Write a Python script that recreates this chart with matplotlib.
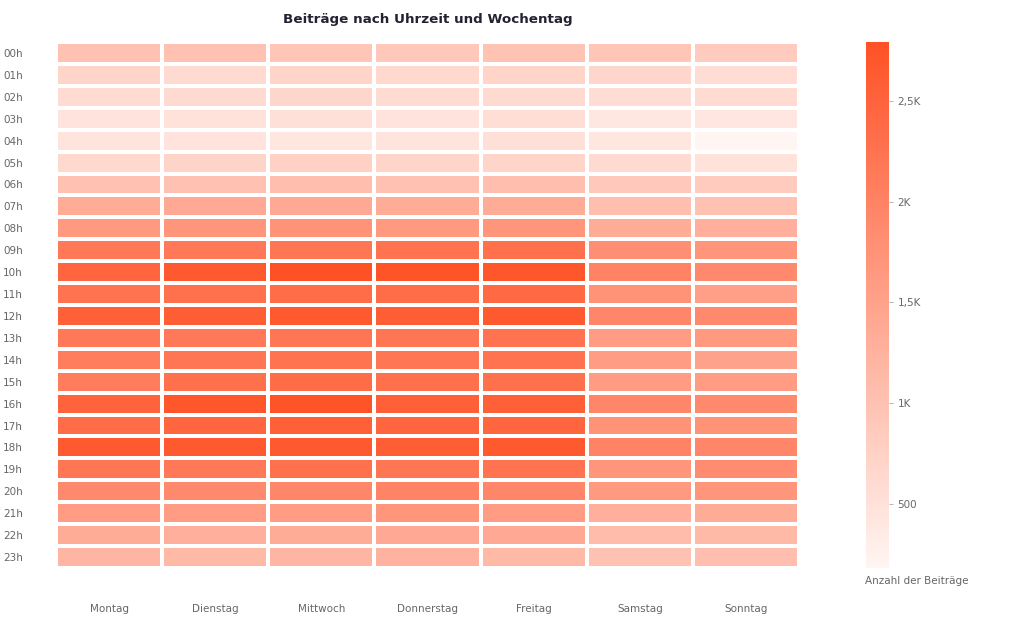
import numpy as np
import matplotlib
matplotlib.use("Agg")
import matplotlib.pyplot as plt
from matplotlib.colors import LinearSegmentedColormap

days = ["Montag", "Dienstag", "Mittwoch", "Donnerstag", "Freitag", "Samstag", "Sonntag"]
hours = [f"{h:02d}h" for h in range(24)]

# rows = hours 00..23, columns = Montag..Sonntag
counts = [
    [1000, 1000, 950, 900, 980, 950, 850],
    [700, 620, 700, 650, 700, 680, 580],
    [600, 620, 680, 600, 620, 580, 600],
    [480, 500, 520, 480, 560, 400, 420],
    [450, 480, 430, 450, 520, 430, 185],
    [650, 720, 780, 700, 700, 620, 500],
    [1000, 1000, 1050, 1000, 1050, 900, 850],
    [1350, 1400, 1400, 1350, 1350, 1050, 1000],
    [1650, 1700, 1750, 1650, 1700, 1350, 1300],
    [2150, 2150, 2200, 2250, 2300, 1800, 1700],
    [2450, 2650, 2790, 2750, 2700, 2000, 1900],
    [2250, 2300, 2350, 2350, 2400, 1750, 1550],
    [2550, 2600, 2650, 2600, 2650, 1950, 1900],
    [2150, 2150, 2200, 2200, 2250, 1600, 1650],
    [2100, 2200, 2250, 2200, 2250, 1600, 1500],
    [2100, 2300, 2350, 2300, 2300, 1600, 1600],
    [2500, 2700, 2750, 2550, 2550, 1950, 1900],
    [2350, 2450, 2550, 2450, 2450, 1750, 1750],
    [2650, 2650, 2650, 2600, 2650, 2000, 1950],
    [2200, 2150, 2300, 2200, 2250, 1700, 1850],
    [1900, 1900, 1950, 2000, 1950, 1650, 1700],
    [1600, 1600, 1600, 1700, 1600, 1300, 1350],
    [1350, 1300, 1350, 1400, 1400, 1100, 1150],
    [1200, 1150, 1200, 1250, 1150, 1000, 1050],
]
cbar_ticks = [500, 1000, 1500, 2000, 2500]
cbar_ticklabels = ["500", "1K", "1,5K", "2K", "2,5K"]

title = "Beiträge nach Uhrzeit und Wochentag"
cbar_label = "Anzahl der Beiträge"

data = np.array(counts, dtype=float)
vmin, vmax = data.min(), data.max()

cmap = LinearSegmentedColormap.from_list("ow", ["#fff5f2", "#ff5126"])

W, H = 1024, 622
fig = plt.figure(figsize=(W / 100, H / 100), dpi=100)
ax = fig.add_axes([56 / W, 1 - 568 / H, (799 - 56) / W, (568 - 42) / H])

mesh = ax.pcolormesh(np.arange(len(days) + 1), np.arange(len(hours) + 1), data,
                     cmap=cmap, vmin=vmin, vmax=vmax,
                     edgecolors="white", linewidth=1.7)
ax.set_xlim(0, len(days))
ax.set_ylim(len(hours), 0)
for s in ax.spines.values():
    s.set_visible(False)

ax.set_xticks(np.arange(len(days)) + 0.5)
ax.set_xticklabels(days, fontsize=7.5, color="#666666")
ax.set_yticks(np.arange(len(hours)) + 0.5)
ax.set_yticklabels(hours, fontsize=7.5, color="#666666", ha="left")
ax.tick_params(axis="x", length=0, pad=26)
ax.tick_params(axis="y", length=0, pad=38)

fig.text(428 / W, 1 - 19 / H, title, ha="center", va="center",
         fontsize=9.7, fontweight="bold", color="#222233")

cax = fig.add_axes([866 / W, 1 - 568 / H, 23 / W, (568 - 42) / H])
cb = fig.colorbar(mesh, cax=cax)
cb.outline.set_visible(False)
cb.set_ticks(cbar_ticks)
cb.set_ticklabels(cbar_ticklabels)
cax.tick_params(length=3, width=0.6, color="#aaaaaa", labelsize=7.5,
                labelcolor="#666666", pad=3)
fig.text(865 / W, 1 - 581 / H, cbar_label, ha="left", va="center",
         fontsize=7.5, color="#666666")

fig.savefig("out.png", dpi=100, facecolor="white")
